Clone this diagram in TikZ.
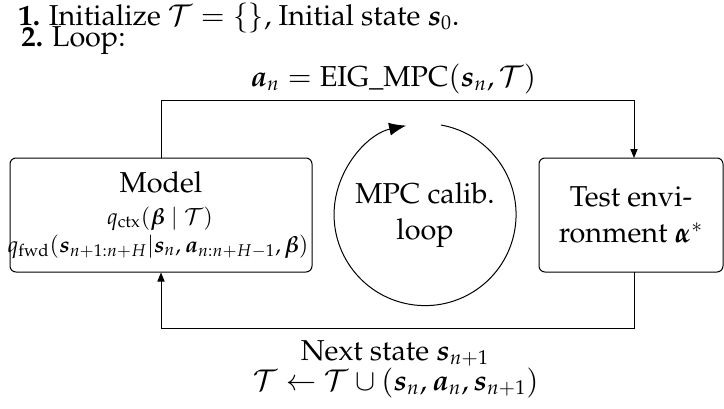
\documentclass[tikz,border=0pt]{standalone}
\usepackage[T1]{fontenc}
\usepackage{mathpazo}
\usepackage{amsmath}
\usepackage{bm}
\usetikzlibrary{arrows.meta,shapes.geometric}
\tikzset{
  big/.style={font=\fontsize{14.4}{18}\selectfont},
  small/.style={font=\fontsize{11.2}{14}\selectfont},
  txt/.style={inner sep=0pt, anchor=base},
  box/.style={draw, rounded corners=3pt, line width=0.5pt, minimum width=151pt, minimum height=57pt, inner sep=0pt},
  conn/.style={line width=0.5pt, -{Triangle[length=4.5pt,width=3.6pt]}},
}
\begin{document}
\begin{tikzpicture}[x=0.5pt,y=0.5pt]
\useasboundingbox (0,0) rectangle (724,-408);
% headings
\node[txt,big,anchor=base west] (h1) at (18,-25) {\textbf{1.} Initialize $\mathcal{T}=\{\}$, Initial state $\bm{s}_0$.};
\node[txt,big,anchor=base west] (h2) at (21,-46) {\textbf{2.} Loop:};
% model box
\node[box] (model) at (161,-215) {};
\node[txt,big] (mtitle) at (161,-192) {Model};
\node[txt,small] (mctx) at (160,-224) {$q_{\text{ctx}}(\bm{\beta}\mid\mathcal{T})$};
\node[txt,small] (mfwd) at (158,-252) {$q_{\text{fwd}}(\bm{s}_{n+1:n+H}|\bm{s}_n,\bm{a}_{n:n+H-1},\bm{\beta})$};
% loop circle
\node[circle, minimum size=91pt, inner sep=0pt, big, align=center] (loop) at (425,-215) {MPC calib.\\loop};
\draw[line width=0.5pt, -{Latex[length=8.5pt,width=6.5pt]}] (loop.80) arc[start angle=80, end angle=-258, radius=45.5pt];
% test environment
\node[box, minimum width=92pt, big, align=center] (test) at (631,-215) {Test envi-\\ronment $\bm{\alpha}^{*}$};
\coordinate (tin) at (634,-158);
\coordinate (tout) at (634,-272);
% connectors
\draw[conn] (model.north) -- ++(0,57) -| (tin);
\draw[conn] (tout) -- ++(0,-56) -| (model.south);
% labels
\node[txt,big] (toplab) at (393,-86) {$\bm{a}_n = \text{EIG\_MPC}(\bm{s}_n,\mathcal{T})$};
\node[txt,big] (bot1) at (395,-360) {Next state $\bm{s}_{n+1}$};
\node[txt,big] (bot2) at (396,-390) {$\mathcal{T}\leftarrow\mathcal{T}\cup(\bm{s}_n,\bm{a}_n,\bm{s}_{n+1})$};
\end{tikzpicture}
\end{document}
